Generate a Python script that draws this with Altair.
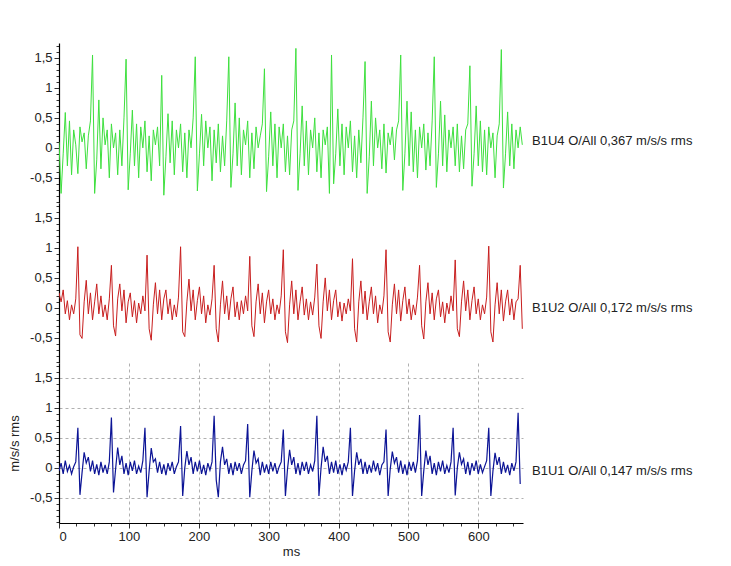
import altair as alt
import numpy as np
import pandas as pd

DT = 3

green = [
    0.1, -0.76, -0.1, 0.59, -0.3, 0.45, -0.45, 0.3, 0.05, -0.43, 0.35, 0.1, 0.25, -0.35, 0.2, 0.45,
    1.55, -0.76, -0.2, 0.8, -0.35, 0.5, 0.05, 0.3, -0.5, 0.4, 0.0, 0.25, -0.45, 0.3, -0.3, 0.5,
    1.48, -0.7, -0.1, 0.63, -0.3, 0.4, -0.5, 0.35, 0.0, 0.45, -0.4, 0.2, -0.55, 0.3, 0.05, 0.35, -0.3,
    1.21, -0.79, -0.15, 0.57, -0.25, 0.45, -0.45, 0.3, 0.0, 0.4, -0.4, 0.25, -0.5, 0.3, 0.0, 0.5,
    1.52, -0.72, -0.1, 0.56, -0.3, 0.45, 0.0, 0.35, -0.55, 0.3, -0.25, 0.4, -0.4, 0.2, -0.3, 0.45,
    1.52, -0.66, -0.1, 0.75, -0.3, 0.5, -0.45, 0.3, 0.05, 0.45, -0.5, 0.25, -0.35, 0.35, 0.0, 0.2, 0.4,
    1.32, -0.73, -0.15, 0.6, -0.3, 0.4, -0.5, 0.35, 0.0, 0.4, -0.4, 0.2, -0.45, 0.3, 0.45,
    1.66, -0.71, -0.1, 0.7, -0.3, 0.45, -0.45, 0.3, 0.0, 0.5, -0.4, 0.25, -0.5, 0.3, 0.05, 0.35, -0.76,
    1.55, -0.6, -0.1, 0.65, -0.3, 0.4, -0.45, 0.35, 0.0, 0.45, -0.4, 0.2, -0.5, 0.3, -0.25, 0.5,
    1.44, -0.76, -0.15, 0.78, -0.3, 0.5, 0.0, 0.3, -0.35, 0.4, -0.42, 0.25, 0.05, 0.35, -0.2, 0.3, 0.45,
    1.55, -0.71, -0.1, 0.78, -0.3, 0.6, -0.4, 0.3, -0.5, 0.35, 0.0, 0.4, -0.37, 0.25, -0.3, 0.45,
    1.52, -0.66, -0.1, 0.78, -0.3, 0.55, -0.4, 0.3, 0.0, 0.35, -0.3, 0.4, -0.4, 0.2, -0.35, 0.3, 0.4,
    1.37, -0.64, -0.1, 0.7, -0.3, 0.45, -0.4, 0.3, -0.45, 0.35, 0.0, 0.25, -0.5, 0.2, 0.4,
    1.64, -0.67, -0.1, 0.6, -0.3, 0.4, -0.35, 0.3, 0.0, 0.35, 0.05,
]

red = [
    0.25, 0.1, 0.3, -0.1, 0.12, -0.2, 0.05, -0.1, 0.15,
    1.02, -0.45, -0.51, 0.1, 0.46, -0.1, 0.25, -0.2, 0.1, 0.4, -0.1, 0.2, -0.15, 0.05, -0.2, 0.15,
    0.71, -0.3, -0.47, 0.15, 0.4, -0.05, 0.3, -0.25, 0.1, 0.25, -0.15, 0.12, -0.25, 0.08, -0.1, 0.2, -0.05,
    0.88, -0.35, -0.54, 0.05, 0.42, -0.1, 0.3, -0.2, 0.15, 0.3, -0.1, 0.15, -0.2, 0.05, -0.15, 0.18,
    1.02, -0.4, -0.48, 0.1, 0.48, -0.05, 0.3, -0.2, 0.12, 0.35, -0.1, 0.2, -0.25, 0.05, -0.12, 0.15,
    0.71, -0.35, -0.57, 0.05, 0.45, -0.1, 0.2, -0.2, 0.15, 0.35, -0.15, 0.1, -0.2, 0.12, -0.1, 0.2, -0.05,
    0.86, -0.3, -0.48, 0.1, 0.4, -0.1, 0.25, -0.25, 0.1, 0.3, -0.1, 0.15, -0.2, 0.05, -0.1, 0.2,
    0.97, -0.4, -0.58, 0.05, 0.45, -0.1, 0.3, -0.2, 0.1, 0.35, -0.12, 0.15, -0.2, 0.1, -0.12, 0.18,
    0.73, -0.3, -0.51, 0.1, 0.5, -0.05, 0.3, -0.2, 0.12, 0.3, -0.15, 0.1, -0.22, 0.08, -0.1, 0.15, -0.05,
    0.82, -0.35, -0.57, 0.1, 0.45, -0.1, 0.28, -0.2, 0.1, 0.35, -0.1, 0.2, -0.25, 0.05, -0.1, 0.2,
    0.97, -0.4, -0.57, 0.05, 0.4, -0.1, 0.3, -0.22, 0.12, 0.35, -0.1, 0.15, -0.2, 0.05, -0.12, 0.18,
    0.71, -0.3, -0.52, 0.1, 0.42, -0.1, 0.25, -0.2, 0.15, 0.3, -0.15, 0.1, -0.25, 0.08, -0.1, 0.2, -0.05,
    0.80, -0.35, -0.48, 0.1, 0.45, -0.05, 0.3, -0.2, 0.12, 0.35, -0.1, 0.15, -0.2, 0.05, -0.1, 0.18,
    1.03, -0.4, -0.57, 0.05, 0.42, -0.1, 0.3, -0.22, 0.1, 0.3, -0.12, 0.15, -0.2, 0.1, 0.15,
    0.71, -0.35,
]

blue = [
    -0.05, 0.08, -0.1, 0.12, -0.06, 0.04, -0.1, 0.02, 0.1,
    0.67, -0.45, -0.08, 0.26, 0.08, 0.18, -0.06, 0.12, -0.1, 0.06, -0.12, 0.1, -0.08, 0.05, -0.1, 0.1,
    0.84, -0.41, -0.02, 0.34, 0.05, 0.2, -0.1, 0.08, -0.12, 0.1, -0.05, 0.12, -0.1, 0.03, -0.08, 0.12,
    0.67, -0.49, -0.05, 0.33, 0.1, 0.15, -0.08, 0.1, -0.1, 0.06, -0.12, 0.08, -0.05, 0.1, -0.1, 0.02, 0.1,
    0.70, -0.47, 0.0, 0.28, 0.05, 0.18, -0.1, 0.1, -0.06, 0.12, -0.1, 0.05, -0.12, 0.08, -0.04, 0.1,
    0.87, -0.2, -0.49, 0.1, 0.35, 0.05, 0.15, -0.1, 0.08, -0.12, 0.1, -0.05, 0.08, -0.1, 0.05, 0.12,
    0.73, -0.49, -0.05, 0.29, 0.08, 0.15, -0.12, 0.1, -0.08, 0.06, -0.1, 0.1, -0.06, 0.08, -0.1, 0.02, 0.1,
    0.64, -0.47, -0.02, 0.3, 0.05, 0.18, -0.1, 0.08, -0.12, 0.1, -0.05, 0.1, -0.1, 0.05, -0.06, 0.12,
    0.87, -0.47, 0.0, 0.35, 0.1, 0.2, -0.1, 0.1, -0.08, 0.12, -0.1, 0.06, -0.12, 0.08, -0.04, 0.1,
    0.67, -0.47, -0.05, 0.26, 0.05, 0.15, -0.1, 0.1, -0.1, 0.05, -0.08, 0.12, -0.06, 0.08, -0.12, 0.05, 0.1,
    0.64, -0.47, -0.02, 0.27, 0.08, 0.18, -0.08, 0.12, -0.1, 0.06, -0.12, 0.1, -0.05, 0.1, -0.08, 0.12,
    0.88, -0.47, -0.05, 0.29, 0.05, 0.2, -0.1, 0.08, -0.12, 0.1, -0.06, 0.12, -0.1, 0.04, -0.08, 0.1,
    0.67, -0.46, 0.0, 0.26, 0.06, 0.15, -0.1, 0.1, -0.12, 0.08, -0.05, 0.12, -0.1, 0.06, -0.08, 0.02, 0.12,
    0.67, -0.47, -0.05, 0.25, 0.05, 0.18, -0.1, 0.1, -0.08, 0.05, -0.12, 0.08, -0.05, 0.1,
    0.92, -0.27,
]

traces = [green, red, blue]
colors = ["#3ee03e", "#c81e1e", "#0c1496"]
widths = [1, 1, 1.2]
labels = ["B1U4 O/All 0,367 m/s/s rms", "B1U2 O/All 0,172 m/s/s rms", "B1U1 O/All 0,147 m/s/s rms"]
label_y = [0.12, 0.0, -0.05]

y_ticks = [round(-0.9 + 0.1 * i, 1) for i in range(27)]
x_ticks = list(range(0, 665, 25))

W, H = 464, 160
YDOM = [-0.92, 1.75]
XDOM = [0, 664]
FONT = "Liberation Sans"
FS = 13
TXT = "#222222"

major_y = "indexof(['-0.5','0','0.5','1','1.5'], toString(datum.value)) >= 0"
major_x = "datum.value % 100 == 0"


def y_axis(bottom):
    kw = dict(
        values=y_ticks,
        labelExpr="(" + major_y + ") ? replace(toString(datum.value), '.', ',') : ''",
        tickSize={"condition": {"test": major_y, "value": 5}, "value": 3},
        labelPadding=2,
        labelFont=FONT, labelFontSize=FS, labelColor=TXT,
        domainColor="#000000", domainWidth=1.2,
        tickColor="#333333", tickWidth=1,
        labelOverlap=False,
        grid=bottom,
    )
    if bottom:
        kw.update(
            gridDash=[3, 3], gridColor="#b0b0b0", gridWidth=1,
            gridOpacity={"condition": {"test": major_y, "value": 1}, "value": 0},
            title="m/s/s rms", titleFont=FONT, titleFontSize=FS,
            titleFontWeight="normal", titleColor=TXT, titlePadding=8,
        )
    else:
        kw.update(title="")
    return alt.Axis(**kw)


def panel(values, color, sw, label, ly, bottom):
    df = pd.DataFrame({"t": np.arange(len(values)) * DT, "v": values})
    lab = pd.DataFrame({"label": [label], "ly": [ly]})
    xscale = alt.Scale(domain=XDOM, nice=False, zero=False)
    yscale = alt.Scale(domain=YDOM, nice=False, zero=False)

    if bottom:
        xaxis = alt.Axis(
            values=x_ticks,
            labelExpr="(" + major_x + ") ? toString(datum.value) : ''",
            tickSize={"condition": {"test": major_x, "value": 5}, "value": 3},
            labelPadding=2,
            labelFont=FONT, labelFontSize=FS, labelColor=TXT,
            domainColor="#000000", domainWidth=1.2,
            tickColor="#333333",
            labelOverlap=False,
            grid=True, gridDash=[3, 3], gridColor="#b0b0b0",
            gridOpacity={"condition": {"test": major_x + " && datum.value > 0", "value": 1}, "value": 0},
            title="ms", titleFont=FONT, titleFontSize=FS,
            titleFontWeight="normal", titleColor=TXT, titlePadding=2,
        )
        x_enc = alt.X("t:Q", scale=xscale, axis=xaxis)
    else:
        x_enc = alt.X("t:Q", scale=xscale, axis=None)

    line = alt.Chart(df).mark_line(color=color, strokeWidth=sw, clip=True).encode(
        x=x_enc, y=alt.Y("v:Q", scale=yscale, axis=y_axis(bottom))
    )
    text = alt.Chart(lab).mark_text(
        align="left", baseline="middle", font=FONT, fontSize=FS, color=TXT
    ).encode(
        x=alt.value(W + 9),
        y=alt.Y("ly:Q", scale=yscale, axis=y_axis(bottom)),
        text="label:N",
    )
    return alt.layer(line, text).properties(width=W, height=H)


panels = [panel(traces[i], colors[i], widths[i], labels[i], label_y[i], i == 2) for i in range(3)]

chart = alt.vconcat(*panels, spacing=0, bounds="flush").properties(
    padding={"left": 0, "top": 31, "right": 5, "bottom": 2}
).configure(background="white").configure_view(strokeWidth=0)

chart.save("out.html", embed_options={"renderer": "svg", "actions": False})
